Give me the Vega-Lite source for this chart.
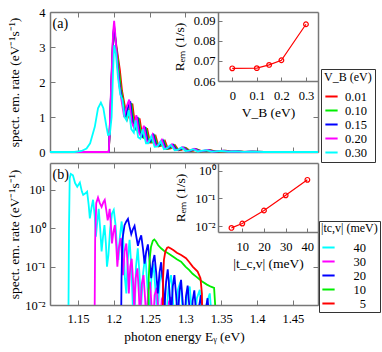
{
"$schema": "https://vega.github.io/schema/vega-lite/v6.json",
"autosize": {"type": "none"},
"padding": {"left": 50, "top": 12, "right": 64, "bottom": 47},
"width": 268,
"height": 293,
"config": {
 "font": "Liberation Serif",
 "view": {"stroke": null},
 "axis": {"grid": false, "domain": true, "labelOverlap": false, "labelFont": "Liberation Serif", "titleFont": "Liberation Serif", "labelFontSize": 12.5, "titleFontSize": 13.5, "labelColor": "#000", "titleColor": "#000", "titleFontWeight": "normal", "tickColor": "#777", "tickWidth": 1, "domainColor": "#777", "domainWidth": 1.5},
 "legend": {"labelFont": "Liberation Serif", "titleFont": "Liberation Serif", "labelFontSize": 12.5, "titleFontSize": 12, "titleFontWeight": "normal", "labelColor": "#000", "titleColor": "#000"}
},
"datasets": {
 "insA": [{"vb":0,"r":0.0663},{"vb":0.1,"r":0.0664},{"vb":0.15,"r":0.068},{"vb":0.2,"r":0.0703},{"vb":0.3,"r":0.0882}],
 "insB": [{"t":5,"r":0.0087},{"t":10,"r":0.0125},{"t":20,"r":0.037},{"t":30,"r":0.13},{"t":40,"r":0.47}],
 "top": [
  {"s":"0.01","e":1.111,"v":0},{"s":"0.01","e":1.193,"v":0},{"s":"0.01","e":1.194,"v":0.4},{"s":"0.01","e":1.1965,"v":1.8},{"s":"0.01","e":1.199,"v":3.2},{"s":"0.01","e":1.2005,"v":3.5},{"s":"0.01","e":1.2025,"v":3.2},{"s":"0.01","e":1.2085,"v":2.35},{"s":"0.01","e":1.2115,"v":1.75},{"s":"0.01","e":1.2155,"v":1.3},{"s":"0.01","e":1.219,"v":0.95},{"s":"0.01","e":1.2225,"v":1.15},{"s":"0.01","e":1.226,"v":1.38},{"s":"0.01","e":1.2295,"v":0.78},{"s":"0.01","e":1.2325,"v":0.65},{"s":"0.01","e":1.236,"v":0.96},{"s":"0.01","e":1.2395,"v":0.5},{"s":"0.01","e":1.2425,"v":0.41},{"s":"0.01","e":1.2465,"v":0.68},{"s":"0.01","e":1.2505,"v":0.27},{"s":"0.01","e":1.2535,"v":0.27},{"s":"0.01","e":1.2585,"v":0.45},{"s":"0.01","e":1.2625,"v":0.16},{"s":"0.01","e":1.2665,"v":0.18},{"s":"0.01","e":1.2715,"v":0.31},{"s":"0.01","e":1.2755,"v":0.09},{"s":"0.01","e":1.2795,"v":0.1},{"s":"0.01","e":1.2855,"v":0.19},{"s":"0.01","e":1.2905,"v":0.05},{"s":"0.01","e":1.2945,"v":0.06},{"s":"0.01","e":1.3005,"v":0.12},{"s":"0.01","e":1.3065,"v":0.03},{"s":"0.01","e":1.3105,"v":0.035},{"s":"0.01","e":1.3165,"v":0.075},{"s":"0.01","e":1.3235,"v":0.02},{"s":"0.01","e":1.3285,"v":0.03},{"s":"0.01","e":1.3355,"v":0.05},{"s":"0.01","e":1.3425,"v":0.01},{"s":"0.01","e":1.3485,"v":0.02},{"s":"0.01","e":1.3565,"v":0.035},{"s":"0.01","e":1.3645,"v":0.01},{"s":"0.01","e":1.3745,"v":0.018},{"s":"0.01","e":1.3845,"v":0.005},{"s":"0.01","e":1.3945,"v":0.01},{"s":"0.01","e":1.41,"v":0},{"s":"0.01","e":1.485,"v":0},
  {"s":"0.10","e":1.111,"v":0},{"s":"0.10","e":1.193,"v":0},{"s":"0.10","e":1.194,"v":0.45},{"s":"0.10","e":1.1965,"v":1.85},{"s":"0.10","e":1.199,"v":3.25},{"s":"0.10","e":1.2005,"v":3.55},{"s":"0.10","e":1.202,"v":3.25},{"s":"0.10","e":1.207,"v":2.4},{"s":"0.10","e":1.21,"v":1.8},{"s":"0.10","e":1.214,"v":1.35},{"s":"0.10","e":1.2175,"v":0.95},{"s":"0.10","e":1.221,"v":1.2},{"s":"0.10","e":1.2245,"v":1.4},{"s":"0.10","e":1.228,"v":0.8},{"s":"0.10","e":1.231,"v":0.66},{"s":"0.10","e":1.2345,"v":0.98},{"s":"0.10","e":1.238,"v":0.5},{"s":"0.10","e":1.241,"v":0.42},{"s":"0.10","e":1.245,"v":0.7},{"s":"0.10","e":1.249,"v":0.28},{"s":"0.10","e":1.252,"v":0.28},{"s":"0.10","e":1.257,"v":0.46},{"s":"0.10","e":1.261,"v":0.17},{"s":"0.10","e":1.265,"v":0.18},{"s":"0.10","e":1.27,"v":0.32},{"s":"0.10","e":1.274,"v":0.09},{"s":"0.10","e":1.278,"v":0.11},{"s":"0.10","e":1.284,"v":0.2},{"s":"0.10","e":1.289,"v":0.055},{"s":"0.10","e":1.293,"v":0.065},{"s":"0.10","e":1.299,"v":0.13},{"s":"0.10","e":1.305,"v":0.03},{"s":"0.10","e":1.309,"v":0.04},{"s":"0.10","e":1.315,"v":0.08},{"s":"0.10","e":1.322,"v":0.02},{"s":"0.10","e":1.327,"v":0.03},{"s":"0.10","e":1.334,"v":0.05},{"s":"0.10","e":1.341,"v":0.01},{"s":"0.10","e":1.347,"v":0.02},{"s":"0.10","e":1.355,"v":0.035},{"s":"0.10","e":1.363,"v":0.01},{"s":"0.10","e":1.373,"v":0.018},{"s":"0.10","e":1.383,"v":0.005},{"s":"0.10","e":1.393,"v":0.01},{"s":"0.10","e":1.41,"v":0},{"s":"0.10","e":1.485,"v":0},
  {"s":"0.15","e":1.111,"v":0},{"s":"0.15","e":1.193,"v":0},{"s":"0.15","e":1.194,"v":0.45},{"s":"0.15","e":1.1965,"v":1.9},{"s":"0.15","e":1.199,"v":3.3},{"s":"0.15","e":1.2005,"v":3.6},{"s":"0.15","e":1.202,"v":3.3},{"s":"0.15","e":1.2055,"v":2.45},{"s":"0.15","e":1.2085,"v":1.85},{"s":"0.15","e":1.2125,"v":1.4},{"s":"0.15","e":1.216,"v":1.0},{"s":"0.15","e":1.2195,"v":1.25},{"s":"0.15","e":1.223,"v":1.45},{"s":"0.15","e":1.2265,"v":0.82},{"s":"0.15","e":1.2295,"v":0.68},{"s":"0.15","e":1.233,"v":1.0},{"s":"0.15","e":1.2365,"v":0.52},{"s":"0.15","e":1.2395,"v":0.44},{"s":"0.15","e":1.2435,"v":0.72},{"s":"0.15","e":1.2475,"v":0.29},{"s":"0.15","e":1.2505,"v":0.29},{"s":"0.15","e":1.2555,"v":0.48},{"s":"0.15","e":1.2595,"v":0.17},{"s":"0.15","e":1.2635,"v":0.19},{"s":"0.15","e":1.2685,"v":0.33},{"s":"0.15","e":1.2725,"v":0.1},{"s":"0.15","e":1.2765,"v":0.11},{"s":"0.15","e":1.2825,"v":0.21},{"s":"0.15","e":1.2875,"v":0.06},{"s":"0.15","e":1.2915,"v":0.07},{"s":"0.15","e":1.2975,"v":0.13},{"s":"0.15","e":1.3035,"v":0.03},{"s":"0.15","e":1.3075,"v":0.04},{"s":"0.15","e":1.3135,"v":0.085},{"s":"0.15","e":1.3205,"v":0.02},{"s":"0.15","e":1.3255,"v":0.03},{"s":"0.15","e":1.3325,"v":0.055},{"s":"0.15","e":1.3395,"v":0.01},{"s":"0.15","e":1.3455,"v":0.02},{"s":"0.15","e":1.3535,"v":0.035},{"s":"0.15","e":1.3615,"v":0.01},{"s":"0.15","e":1.3715,"v":0.018},{"s":"0.15","e":1.3815,"v":0.005},{"s":"0.15","e":1.3915,"v":0.01},{"s":"0.15","e":1.41,"v":0},{"s":"0.15","e":1.485,"v":0},
  {"s":"0.20","e":1.111,"v":0},{"s":"0.20","e":1.193,"v":0},{"s":"0.20","e":1.194,"v":0.5},{"s":"0.20","e":1.1965,"v":2.0},{"s":"0.20","e":1.199,"v":3.4},{"s":"0.20","e":1.2005,"v":3.75},{"s":"0.20","e":1.202,"v":3.4},{"s":"0.20","e":1.205,"v":2.5},{"s":"0.20","e":1.208,"v":1.85},{"s":"0.20","e":1.211,"v":1.45},{"s":"0.20","e":1.2145,"v":1.0},{"s":"0.20","e":1.218,"v":1.3},{"s":"0.20","e":1.2215,"v":1.5},{"s":"0.20","e":1.225,"v":0.85},{"s":"0.20","e":1.228,"v":0.7},{"s":"0.20","e":1.2315,"v":1.05},{"s":"0.20","e":1.235,"v":0.55},{"s":"0.20","e":1.238,"v":0.45},{"s":"0.20","e":1.242,"v":0.75},{"s":"0.20","e":1.246,"v":0.3},{"s":"0.20","e":1.249,"v":0.3},{"s":"0.20","e":1.254,"v":0.5},{"s":"0.20","e":1.258,"v":0.18},{"s":"0.20","e":1.262,"v":0.2},{"s":"0.20","e":1.267,"v":0.35},{"s":"0.20","e":1.271,"v":0.1},{"s":"0.20","e":1.275,"v":0.12},{"s":"0.20","e":1.281,"v":0.22},{"s":"0.20","e":1.286,"v":0.06},{"s":"0.20","e":1.29,"v":0.07},{"s":"0.20","e":1.296,"v":0.14},{"s":"0.20","e":1.302,"v":0.03},{"s":"0.20","e":1.306,"v":0.04},{"s":"0.20","e":1.312,"v":0.09},{"s":"0.20","e":1.319,"v":0.02},{"s":"0.20","e":1.324,"v":0.03},{"s":"0.20","e":1.331,"v":0.06},{"s":"0.20","e":1.338,"v":0.01},{"s":"0.20","e":1.344,"v":0.02},{"s":"0.20","e":1.352,"v":0.04},{"s":"0.20","e":1.36,"v":0.01},{"s":"0.20","e":1.37,"v":0.02},{"s":"0.20","e":1.38,"v":0.005},{"s":"0.20","e":1.39,"v":0.01},{"s":"0.20","e":1.41,"v":0},{"s":"0.20","e":1.485,"v":0},
  {"s":"0.30","e":1.111,"v":0},{"s":"0.30","e":1.145,"v":0},{"s":"0.30","e":1.155,"v":0.03},{"s":"0.30","e":1.162,"v":0.1},{"s":"0.30","e":1.167,"v":0.25},{"s":"0.30","e":1.1735,"v":0.72},{"s":"0.30","e":1.178,"v":1.25},{"s":"0.30","e":1.182,"v":1.41},{"s":"0.30","e":1.1855,"v":1.25},{"s":"0.30","e":1.1875,"v":1.0},{"s":"0.30","e":1.19,"v":0.7},{"s":"0.30","e":1.192,"v":0.49},{"s":"0.30","e":1.1945,"v":0.5},{"s":"0.30","e":1.197,"v":1.0},{"s":"0.30","e":1.199,"v":2.3},{"s":"0.30","e":1.2005,"v":3.05},{"s":"0.30","e":1.203,"v":2.8},{"s":"0.30","e":1.206,"v":2.1},{"s":"0.30","e":1.209,"v":1.65},{"s":"0.30","e":1.212,"v":1.5},{"s":"0.30","e":1.215,"v":1.0},{"s":"0.30","e":1.218,"v":0.9},{"s":"0.30","e":1.221,"v":1.2},{"s":"0.30","e":1.2245,"v":0.65},{"s":"0.30","e":1.228,"v":0.55},{"s":"0.30","e":1.2305,"v":0.9},{"s":"0.30","e":1.234,"v":0.42},{"s":"0.30","e":1.237,"v":0.38},{"s":"0.30","e":1.2405,"v":0.65},{"s":"0.30","e":1.245,"v":0.25},{"s":"0.30","e":1.248,"v":0.25},{"s":"0.30","e":1.2525,"v":0.45},{"s":"0.30","e":1.257,"v":0.15},{"s":"0.30","e":1.261,"v":0.16},{"s":"0.30","e":1.2655,"v":0.3},{"s":"0.30","e":1.27,"v":0.08},{"s":"0.30","e":1.274,"v":0.1},{"s":"0.30","e":1.2795,"v":0.2},{"s":"0.30","e":1.285,"v":0.05},{"s":"0.30","e":1.289,"v":0.06},{"s":"0.30","e":1.2945,"v":0.13},{"s":"0.30","e":1.3,"v":0.03},{"s":"0.30","e":1.305,"v":0.04},{"s":"0.30","e":1.3105,"v":0.08},{"s":"0.30","e":1.317,"v":0.015},{"s":"0.30","e":1.322,"v":0.03},{"s":"0.30","e":1.329,"v":0.05},{"s":"0.30","e":1.336,"v":0.01},{"s":"0.30","e":1.342,"v":0.015},{"s":"0.30","e":1.35,"v":0.03},{"s":"0.30","e":1.36,"v":0.008},{"s":"0.30","e":1.37,"v":0.015},{"s":"0.30","e":1.38,"v":0.004},{"s":"0.30","e":1.39,"v":0.008},{"s":"0.30","e":1.41,"v":0},{"s":"0.30","e":1.485,"v":0}
 ],
 "bot": [
  {"s":"40","e":1.1365,"v":0.001},{"s":"40","e":1.1375,"v":1},{"s":"40","e":1.1385,"v":20},{"s":"40","e":1.14,"v":26},{"s":"40","e":1.143,"v":24},{"s":"40","e":1.146,"v":15},{"s":"40","e":1.149,"v":12},{"s":"40","e":1.1527,"v":15.5},{"s":"40","e":1.1555,"v":9},{"s":"40","e":1.1573,"v":7.4},{"s":"40","e":1.16,"v":8},{"s":"40","e":1.1628,"v":9},{"s":"40","e":1.165,"v":4},{"s":"40","e":1.1666,"v":1.8},{"s":"40","e":1.169,"v":3.5},{"s":"40","e":1.1711,"v":5.5},{"s":"40","e":1.1735,"v":2},{"s":"40","e":1.175,"v":0.6},{"s":"40","e":1.177,"v":1.5},{"s":"40","e":1.179,"v":3.2},{"s":"40","e":1.181,"v":1.0},{"s":"40","e":1.183,"v":0.25},{"s":"40","e":1.185,"v":0.6},{"s":"40","e":1.187,"v":1.2},{"s":"40","e":1.189,"v":0.4},{"s":"40","e":1.1905,"v":0.1},{"s":"40","e":1.1925,"v":0.2},{"s":"40","e":1.195,"v":1.0},{"s":"40","e":1.1975,"v":2.4},{"s":"40","e":1.2,"v":3.0},{"s":"40","e":1.2025,"v":1.2},{"s":"40","e":1.2045,"v":0.3},{"s":"40","e":1.2065,"v":0.15},{"s":"40","e":1.2085,"v":0.6},{"s":"40","e":1.211,"v":1.5},{"s":"40","e":1.2135,"v":0.4},{"s":"40","e":1.2155,"v":0.05},{"s":"40","e":1.2175,"v":0.02},{"s":"40","e":1.2195,"v":0.15},{"s":"40","e":1.222,"v":0.5},{"s":"40","e":1.2245,"v":0.1},{"s":"40","e":1.2265,"v":0.01},{"s":"40","e":1.229,"v":0.005},{"s":"40","e":1.231,"v":0.1},{"s":"40","e":1.2335,"v":0.3},{"s":"40","e":1.236,"v":0.06},{"s":"40","e":1.238,"v":0.008},{"s":"40","e":1.241,"v":0.07},{"s":"40","e":1.244,"v":0.2},{"s":"40","e":1.247,"v":0.03},{"s":"40","e":1.2495,"v":0.005},{"s":"40","e":1.2525,"v":0.05},{"s":"40","e":1.2555,"v":0.12},{"s":"40","e":1.2585,"v":0.02},{"s":"40","e":1.261,"v":0.005},{"s":"40","e":1.264,"v":0.04},{"s":"40","e":1.2675,"v":0.08},{"s":"40","e":1.2705,"v":0.015},{"s":"40","e":1.273,"v":0.004},{"s":"40","e":1.2765,"v":0.03},{"s":"40","e":1.28,"v":0.06},{"s":"40","e":1.283,"v":0.01},{"s":"40","e":1.286,"v":0.004},{"s":"40","e":1.2895,"v":0.025},{"s":"40","e":1.293,"v":0.04},{"s":"40","e":1.296,"v":0.008},{"s":"40","e":1.299,"v":0.003},{"s":"40","e":1.3025,"v":0.02},{"s":"40","e":1.306,"v":0.03},{"s":"40","e":1.309,"v":0.006},{"s":"40","e":1.312,"v":0.003},{"s":"40","e":1.316,"v":0.015},{"s":"40","e":1.32,"v":0.025},{"s":"40","e":1.323,"v":0.005},{"s":"40","e":1.326,"v":0.002},{"s":"40","e":1.33,"v":0.012},{"s":"40","e":1.334,"v":0.02},{"s":"40","e":1.337,"v":0.004},{"s":"40","e":1.34,"v":0.001},
  {"s":"30","e":1.173,"v":0.001},{"s":"30","e":1.174,"v":0.5},{"s":"30","e":1.1755,"v":4.5},{"s":"30","e":1.178,"v":6.3},{"s":"30","e":1.1805,"v":4.5},{"s":"30","e":1.183,"v":3.6},{"s":"30","e":1.1855,"v":4.8},{"s":"30","e":1.1874,"v":5.5},{"s":"30","e":1.1895,"v":3.0},{"s":"30","e":1.1915,"v":1.6},{"s":"30","e":1.193,"v":2.2},{"s":"30","e":1.1943,"v":3.2},{"s":"30","e":1.196,"v":1.2},{"s":"30","e":1.1975,"v":0.4},{"s":"30","e":1.1995,"v":0.8},{"s":"30","e":1.2015,"v":1.2},{"s":"30","e":1.2035,"v":0.35},{"s":"30","e":1.205,"v":0.1},{"s":"30","e":1.207,"v":0.3},{"s":"30","e":1.2095,"v":0.55},{"s":"30","e":1.2115,"v":0.2},{"s":"30","e":1.213,"v":0.06},{"s":"30","e":1.215,"v":0.25},{"s":"30","e":1.2175,"v":0.4},{"s":"30","e":1.2195,"v":0.1},{"s":"30","e":1.221,"v":0.02},{"s":"30","e":1.223,"v":0.1},{"s":"30","e":1.225,"v":0.16},{"s":"30","e":1.227,"v":0.04},{"s":"30","e":1.2285,"v":0.008},{"s":"30","e":1.2305,"v":0.05},{"s":"30","e":1.233,"v":0.09},{"s":"30","e":1.235,"v":0.02},{"s":"30","e":1.2365,"v":0.004},{"s":"30","e":1.239,"v":0.035},{"s":"30","e":1.2415,"v":0.06},{"s":"30","e":1.244,"v":0.012},{"s":"30","e":1.2455,"v":0.003},{"s":"30","e":1.248,"v":0.025},{"s":"30","e":1.2505,"v":0.04},{"s":"30","e":1.253,"v":0.008},{"s":"30","e":1.2545,"v":0.002},{"s":"30","e":1.257,"v":0.018},{"s":"30","e":1.26,"v":0.028},{"s":"30","e":1.2625,"v":0.006},{"s":"30","e":1.264,"v":0.002},{"s":"30","e":1.267,"v":0.014},{"s":"30","e":1.27,"v":0.02},{"s":"30","e":1.2725,"v":0.004},{"s":"30","e":1.274,"v":0.001},{"s":"30","e":1.277,"v":0.012},{"s":"30","e":1.28,"v":0.016},{"s":"30","e":1.2825,"v":0.003},{"s":"30","e":1.284,"v":0.001},
  {"s":"20","e":1.21,"v":0.001},{"s":"20","e":1.2108,"v":0.05},{"s":"20","e":1.212,"v":0.5},{"s":"20","e":1.215,"v":1.2},{"s":"20","e":1.2175,"v":1.5},{"s":"20","e":1.2198,"v":1.75},{"s":"20","e":1.222,"v":1.1},{"s":"20","e":1.2244,"v":0.7},{"s":"20","e":1.2268,"v":0.95},{"s":"20","e":1.229,"v":1.15},{"s":"20","e":1.2315,"v":0.6},{"s":"20","e":1.2337,"v":0.35},{"s":"20","e":1.236,"v":0.5},{"s":"20","e":1.2383,"v":0.65},{"s":"20","e":1.2407,"v":0.3},{"s":"20","e":1.243,"v":0.12},{"s":"20","e":1.2453,"v":0.25},{"s":"20","e":1.2476,"v":0.38},{"s":"20","e":1.25,"v":0.15},{"s":"20","e":1.2522,"v":0.05},{"s":"20","e":1.2545,"v":0.13},{"s":"20","e":1.2568,"v":0.2},{"s":"20","e":1.2592,"v":0.07},{"s":"20","e":1.2615,"v":0.02},{"s":"20","e":1.2638,"v":0.07},{"s":"20","e":1.2661,"v":0.13},{"s":"20","e":1.2684,"v":0.04},{"s":"20","e":1.2707,"v":0.008},{"s":"20","e":1.273,"v":0.04},{"s":"20","e":1.2753,"v":0.085},{"s":"20","e":1.2776,"v":0.025},{"s":"20","e":1.28,"v":0.005},{"s":"20","e":1.2823,"v":0.03},{"s":"20","e":1.2846,"v":0.06},{"s":"20","e":1.287,"v":0.018},{"s":"20","e":1.2893,"v":0.004},{"s":"20","e":1.2916,"v":0.022},{"s":"20","e":1.2939,"v":0.045},{"s":"20","e":1.2962,"v":0.012},{"s":"20","e":1.2985,"v":0.003},{"s":"20","e":1.3008,"v":0.017},{"s":"20","e":1.3031,"v":0.032},{"s":"20","e":1.3055,"v":0.009},{"s":"20","e":1.3078,"v":0.002},{"s":"20","e":1.3101,"v":0.013},{"s":"20","e":1.3124,"v":0.024},{"s":"20","e":1.3147,"v":0.007},{"s":"20","e":1.317,"v":0.002},{"s":"20","e":1.3193,"v":0.01},{"s":"20","e":1.3217,"v":0.018},{"s":"20","e":1.324,"v":0.005},{"s":"20","e":1.3263,"v":0.002},{"s":"20","e":1.3286,"v":0.008},{"s":"20","e":1.3309,"v":0.015},{"s":"20","e":1.333,"v":0.005},{"s":"20","e":1.3355,"v":0.01},{"s":"20","e":1.337,"v":0.004},{"s":"20","e":1.3378,"v":0.001},
  {"s":"10","e":1.248,"v":0.001},{"s":"10","e":1.2488,"v":0.05},{"s":"10","e":1.25,"v":0.15},{"s":"10","e":1.252,"v":0.33},{"s":"10","e":1.2545,"v":0.47},{"s":"10","e":1.2566,"v":0.51},{"s":"10","e":1.259,"v":0.45},{"s":"10","e":1.262,"v":0.36},{"s":"10","e":1.266,"v":0.3},{"s":"10","e":1.27,"v":0.26},{"s":"10","e":1.2763,"v":0.22},{"s":"10","e":1.283,"v":0.18},{"s":"10","e":1.288,"v":0.155},{"s":"10","e":1.2939,"v":0.135},{"s":"10","e":1.3,"v":0.1},{"s":"10","e":1.3054,"v":0.081},{"s":"10","e":1.31,"v":0.065},{"s":"10","e":1.315,"v":0.055},{"s":"10","e":1.32,"v":0.046},{"s":"10","e":1.3239,"v":0.04},{"s":"10","e":1.33,"v":0.034},{"s":"10","e":1.3356,"v":0.03},{"s":"10","e":1.34,"v":0.028},{"s":"10","e":1.3415,"v":0.01},{"s":"10","e":1.3425,"v":0.001},
  {"s":"5","e":1.268,"v":0.001},{"s":"5","e":1.2688,"v":0.05},{"s":"5","e":1.27,"v":0.15},{"s":"5","e":1.272,"v":0.25},{"s":"5","e":1.2745,"v":0.31},{"s":"5","e":1.2763,"v":0.32},{"s":"5","e":1.279,"v":0.3},{"s":"5","e":1.283,"v":0.27},{"s":"5","e":1.288,"v":0.23},{"s":"5","e":1.294,"v":0.2},{"s":"5","e":1.3008,"v":0.165},{"s":"5","e":1.3055,"v":0.13},{"s":"5","e":1.3101,"v":0.1},{"s":"5","e":1.317,"v":0.074},{"s":"5","e":1.321,"v":0.05},{"s":"5","e":1.323,"v":0.02},{"s":"5","e":1.324,"v":0.001}
 ]
},
"resolve": {"scale": {"x": "independent", "y": "independent", "color": "independent"}, "axis": {"x": "independent", "y": "independent"}, "legend": {"color": "independent"}},
"layer": [
 {"data": {"name": "top"}, "mark": {"type": "line", "strokeWidth": 1.8, "clip": true},
  "encoding": {
   "x": {"field": "e", "type": "quantitative", "scale": {"domain": [1.111, 1.485], "nice": false, "zero": false},
         "axis": {"orient": "bottom", "offset": -153, "values": [1.15, 1.2, 1.25, 1.3, 1.35, 1.4, 1.45], "labels": false, "title": null, "tickSize": -5}},
   "y": {"field": "v", "type": "quantitative", "scale": {"domain": [0, 4], "range": [140, 0], "nice": false},
         "axis": {"orient": "left", "values": [0, 1, 2, 3, 4], "title": "spect. em. rate (eV⁻¹s⁻¹)", "tickSize": -5, "labelPadding": 10, "titleX": -29, "titleY": 70}},
   "color": {"field": "s", "type": "nominal", "scale": {"domain": ["0.01", "0.10", "0.15", "0.20", "0.30"], "range": ["#ff0000", "#00ee00", "#0000ff", "#ff00ff", "#00ffff"]},
             "legend": {"orient": "none", "legendX": 271, "legendY": 57, "title": "V_B (eV)", "symbolType": "stroke", "symbolSize": 150, "symbolStrokeWidth": 2, "strokeColor": "#333", "padding": 3, "rowPadding": 0, "labelOffset": 6}}
  }},
 {"data": {"values": [{}]}, "mark": {"type": "text", "align": "left", "baseline": "middle", "fontSize": 14, "font": "Liberation Serif"},
  "encoding": {
   "x": {"datum": 1.1145, "type": "quantitative", "scale": {"domain": [1.111, 1.485], "nice": false, "zero": false},
         "axis": {"orient": "top", "values": [1.15, 1.2, 1.25, 1.3], "labels": false, "title": null, "tickSize": -5}},
   "y": {"datum": 3.66, "type": "quantitative", "scale": {"domain": [0, 4], "range": [140, 0], "nice": false},
         "axis": {"orient": "right", "values": [0, 1], "labels": false, "title": null, "tickSize": -5}},
   "text": {"value": "(a)"}}},
 {"data": {"name": "insA"}, "mark": {"type": "line", "color": "#ff0000", "strokeWidth": 1.2, "point": {"shape": "circle", "filled": false, "size": 22, "color": "#ff0000", "strokeWidth": 1.2}},
  "encoding": {
   "x": {"field": "vb", "type": "quantitative", "scale": {"domain": [-0.058, 0.349], "range": [168, 268], "nice": false, "zero": false},
         "axis": {"orient": "bottom", "offset": -224, "values": [0, 0.1, 0.2, 0.3], "format": "~g", "title": "V_B (eV)", "tickSize": -4, "labelPadding": 12, "titlePadding": 4}},
   "y": {"field": "r", "type": "quantitative", "scale": {"domain": [0.06, 0.0943], "range": [69, 0], "nice": false, "zero": false},
         "axis": {"orient": "left", "offset": -168, "values": [0.06, 0.07, 0.08, 0.09], "format": ".2f", "title": "Rₑₘ (1/s)", "tickSize": -4, "labelPadding": 7, "titlePadding": 7}}
  }},
 {"data": {"name": "bot"}, "mark": {"type": "line", "strokeWidth": 1.8, "clip": true},
  "encoding": {
   "x": {"field": "e", "type": "quantitative", "scale": {"domain": [1.111, 1.485], "nice": false, "zero": false},
         "axis": {"orient": "bottom", "values": [1.15, 1.2, 1.25, 1.3, 1.35, 1.4, 1.45], "format": "~g", "title": "photon energy Eᵧ (eV)", "tickSize": -5, "labelPadding": 12, "titlePadding": 5}},
   "y": {"field": "v", "type": "quantitative", "scale": {"type": "log", "domain": [0.01, 50], "range": [293, 151], "nice": false},
         "axis": {"orient": "left", "values": [0.01, 0.1, 1, 10], "labelExpr": "datum.value >= 5 ? '10¹' : datum.value >= 0.5 ? '10⁰' : datum.value >= 0.05 ? '10⁻¹' : '10⁻²'", "title": "spect. em. rate (eV⁻¹s⁻¹)", "tickSize": -5, "labelPadding": 10, "titleX": -29, "titleY": 222}},
   "color": {"field": "s", "type": "nominal", "scale": {"domain": ["40", "30", "20", "10", "5"], "range": ["#00ffff", "#ff00ff", "#0000ff", "#00ee00", "#ff0000"]},
             "legend": {"orient": "none", "legendX": 269, "legendY": 209, "title": "|tc,v| (meV)", "symbolType": "stroke", "symbolSize": 150, "symbolStrokeWidth": 2, "strokeColor": "#333", "padding": 2, "rowPadding": 0, "labelAlign": "right", "labelOffset": 30}}
  }},
 {"data": {"values": [{}]}, "mark": {"type": "text", "align": "left", "baseline": "middle", "fontSize": 14, "font": "Liberation Serif"},
  "encoding": {
   "x": {"datum": 1.1145, "type": "quantitative", "scale": {"domain": [1.111, 1.485], "nice": false, "zero": false},
         "axis": {"orient": "top", "offset": -151, "values": [1.15, 1.2, 1.25, 1.3], "labels": false, "title": null, "tickSize": -5}},
   "y": {"datum": 24, "type": "quantitative", "scale": {"type": "log", "domain": [0.01, 50], "range": [293, 151], "nice": false},
         "axis": {"orient": "right", "values": [0.01, 0.1], "labels": false, "title": null, "tickSize": -5}},
   "text": {"value": "(b)"}}},
 {"data": {"name": "insB"}, "mark": {"type": "line", "color": "#ff0000", "strokeWidth": 1.2, "point": {"shape": "circle", "filled": false, "size": 22, "color": "#ff0000", "strokeWidth": 1.2}},
  "encoding": {
   "x": {"field": "t", "type": "quantitative", "scale": {"domain": [-1.2, 44.9], "range": [168, 268], "nice": false, "zero": false},
         "axis": {"orient": "bottom", "offset": -73, "values": [10, 20, 30, 40], "title": "|t_c,v| (meV)", "tickSize": -4, "labelPadding": 12, "titlePadding": 4}},
   "y": {"field": "r", "type": "quantitative", "scale": {"type": "log", "domain": [0.0062, 1.9], "range": [220, 151], "nice": false},
         "axis": {"orient": "left", "offset": -168, "values": [0.01, 0.1, 1], "labelExpr": "datum.value >= 0.5 ? '10⁰' : datum.value >= 0.05 ? '10⁻¹' : '10⁻²'", "title": "Rₑₘ (1/s)", "tickSize": -4, "labelPadding": 7, "titlePadding": 7}}
  }}
]
}
